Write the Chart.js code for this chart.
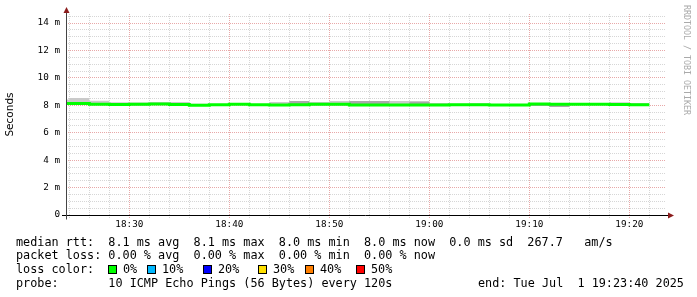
<!DOCTYPE html>
<html>
<head>
<meta charset="utf-8">
<script src="https://cdn.jsdelivr.net/npm/chart.js@4"></script>
<style>
    body { margin: 0; background: #fff; }
    #wrap { position: relative; width: 697px; height: 297px; overflow: hidden; background: #fff; }
    #wrap canvas { position: absolute; left: 0; top: 0; }
    .lg { position: absolute; font-family: 'DejaVu Sans Mono', monospace; font-size: 11.8px; line-height: 14px; white-space: pre; color: #000; }
    .box { position: absolute; top: 265px; width: 7px; height: 7px; border: 1px solid #000; }
    #wm { position: absolute; left: 682px; top: 5px; writing-mode: vertical-rl; font-family: 'DejaVu Sans Mono', monospace; font-size: 8.3px; line-height: 9px; color: #aaa; white-space: pre; }
</style>
</head>
<body>
<div id="wrap">
    <canvas id="rttChart" width="697" height="297"></canvas>
    <div id="wm">RRDTOOL / TOBI OETIKER</div>
    <div class="lg" style="left:16px;top:234.5px">median rtt:  8.1 ms avg  8.1 ms max  8.0 ms min  8.0 ms now  0.0 ms sd  267.7   am/s</div>
    <div class="lg" style="left:16px;top:248.2px">packet loss: 0.00 % avg  0.00 % max  0.00 % min  0.00 % now</div>
    <div class="lg" style="left:16px;top:261.9px">loss color:</div>
    <div id="lossRow"></div>
    <div class="lg" style="left:16px;top:275.6px">probe:       10 ICMP Echo Pings (56 Bytes) every 120s</div>
    <div class="lg" style="left:478px;top:275.6px">end: Tue Jul  1 19:23:40 2025</div>
</div>
<script>
// 2분 간격 측정 구간 (시작 시각)
const stepStart = ['18:22', '18:24', '18:26', '18:28', '18:30', '18:32', '18:34', '18:36', '18:38', '18:40',
    '18:42', '18:44', '18:46', '18:48', '18:50', '18:52', '18:54', '18:56', '18:58', '19:00',
    '19:02', '19:04', '19:06', '19:08', '19:10', '19:12', '19:14', '19:16', '19:18', '19:20'];
const stepEnd = '19:22';
const viewStart = '18:23:40';
const viewEnd = '19:23:40';

// median rtt (ms)
const medianRtt = [8.14, 8.14, 8.08, 8.06, 8.07, 8.10, 8.06, 8.01, 8.05, 8.08,
    8.04, 8.03, 8.04, 8.07, 8.07, 8.03, 8.03, 8.03, 8.03, 8.03,
    8.05, 8.04, 8.03, 8.03, 8.09, 8.07, 8.08, 8.08, 8.06, 8.05];
// smoke 위/아래 (ms)
const smokeHigh = [8.43, 8.53, 8.33, 8.22, 8.20, 8.24, 8.24, 8.12, 8.10, 8.12,
    8.08, 8.24, 8.32, 8.24, 8.31, 8.31, 8.31, 8.31, 8.27, 8.16,
    8.12, 8.15, 8.07, 8.07, 8.12, 8.10, 8.10, 8.14, 8.22, 8.16];
const smokeDense = [8.14, 8.14, 8.08, 8.06, 8.07, 8.10, 8.06, 8.01, 8.05, 8.08,
    8.04, 8.03, 8.32, 8.07, 8.07, 8.31, 8.31, 8.03, 8.27, 8.03,
    8.05, 8.04, 8.03, 8.03, 8.09, 8.07, 8.08, 8.08, 8.06, 8.05];
const smokeLow = [8.08, 8.08, 8.02, 8.00, 8.01, 8.04, 8.00, 7.95, 7.99, 8.02,
    7.98, 7.97, 7.98, 8.01, 8.01, 7.97, 7.97, 7.97, 7.97, 7.97,
    7.99, 7.98, 7.97, 7.97, 7.95, 7.88, 8.02, 8.02, 8.00, 7.99];

const xTickLabels = ['18:30', '18:40', '18:50', '19:00', '19:10', '19:20'];
const yTickLabels = ['0', '2 m', '4 m', '6 m', '8 m', '10 m', '12 m', '14 m'];

const lossNames = ['0%', '10%', '20%', '30%', '40%', '50%'];
const lossColors = ['#00ff00', '#00b8ff', '#0000ff', '#ffe000', '#ff7f00', '#ff0000'];

// 18:00 기준 분 단위
function toMin(t) {
    const p = t.split(':').map(Number);
    return (p[0] - 18) * 60 + p[1] + (p[2] || 0) / 60;
}

function stepPoints(vals) {
    const pts = stepStart.map((t, i) => ({ x: toMin(t), y: vals[i] }));
    pts.push({ x: toMin(stepEnd), y: vals[vals.length - 1] });
    return pts;
}

// loss color 범례
const lossBoxX = [108, 147, 203, 258, 305, 356];
const lossRow = document.getElementById('lossRow');
lossNames.forEach((name, i) => {
    const b = document.createElement('div');
    b.className = 'box';
    b.style.left = lossBoxX[i] + 'px';
    b.style.background = lossColors[i];
    lossRow.appendChild(b);
    const t = document.createElement('div');
    t.className = 'lg';
    t.style.left = (lossBoxX[i] + 15) + 'px';
    t.style.top = '261.9px';
    t.textContent = name;
    lossRow.appendChild(t);
});

const monoFont = { family: "'DejaVu Sans Mono', monospace", size: 9.3 };
const minorGrid = '#d6d6d6';
const majorGrid = '#e8a8a8';

// 축선과 화살표 (rrdtool 스타일)
const axisArrows = {
    id: 'axisArrows',
    afterDatasetsDraw(chart) {
        const { ctx, chartArea: a } = chart;
        const y0 = Math.round(chart.scales.y.getPixelForValue(0)) + 0.5;
        const x0 = Math.round(a.left) + 0.5;
        ctx.save();
        ctx.lineWidth = 1;
        ctx.strokeStyle = '#000';
        ctx.beginPath();
        ctx.moveTo(a.left - 4, y0);
        ctx.lineTo(a.right + 3, y0);
        ctx.stroke();
        ctx.strokeStyle = '#444';
        ctx.beginPath();
        ctx.moveTo(x0, y0 + 4);
        ctx.lineTo(x0, a.top - 2);
        ctx.stroke();
        ctx.fillStyle = '#8b1c1c';
        ctx.beginPath();
        ctx.moveTo(a.right + 8, y0);
        ctx.lineTo(a.right + 2, y0 - 3);
        ctx.lineTo(a.right + 2, y0 + 3);
        ctx.closePath();
        ctx.fill();
        ctx.beginPath();
        ctx.moveTo(x0, a.top - 7);
        ctx.lineTo(x0 - 3, a.top - 1);
        ctx.lineTo(x0 + 3, a.top - 1);
        ctx.closePath();
        ctx.fill();
        ctx.restore();
    }
};

const hidden = 'rgba(0,0,0,0)';

new Chart(document.getElementById('rttChart').getContext('2d'), {
    type: 'line',
    data: {
        datasets: [
            {
                label: 'median rtt',
                data: stepPoints(medianRtt),
                borderColor: lossColors[0],
                borderWidth: 3,
                stepped: true,
                pointRadius: 0,
                fill: false,
                order: 0
            },
            {
                label: 'smoke dense',
                data: stepPoints(smokeDense),
                borderColor: hidden,
                borderWidth: 1,
                backgroundColor: '#a9a9a9',
                stepped: true,
                pointRadius: 0,
                fill: 3,
                order: 1
            },
            {
                label: 'smoke',
                data: stepPoints(smokeHigh),
                borderColor: hidden,
                borderWidth: 1,
                backgroundColor: '#cacaca',
                stepped: true,
                pointRadius: 0,
                fill: 3,
                order: 2
            },
            {
                label: 'smoke low',
                data: stepPoints(smokeLow),
                borderColor: hidden,
                borderWidth: 1,
                stepped: true,
                pointRadius: 0,
                fill: false,
                order: 3
            }
        ]
    },
    options: {
        responsive: false,
        animation: false,
        layout: { padding: { top: 14, right: 31, bottom: 0, left: 0 } },
        plugins: {
            legend: { display: false },
            tooltip: { enabled: false }
        },
        scales: {
            x: {
                type: 'linear',
                min: toMin(viewStart),
                max: toMin(viewEnd),
                afterBuildTicks: s => {
                    const t = [];
                    for (let m = 24; m <= 82; m += 2) t.push({ value: m });
                    s.ticks = t;
                },
                afterFit: s => { s.height = 82; },
                ticks: {
                    autoSkip: false,
                    maxRotation: 0,
                    padding: 0,
                    color: '#000',
                    font: monoFont,
                    callback: function (value) {
                        const i = xTickLabels.findIndex(l => Math.abs(toMin(l) - value) < 0.01);
                        return i >= 0 ? xTickLabels[i] : '';
                    }
                },
                grid: {
                    color: c => (c.tick && c.tick.value % 10 === 0) ? majorGrid : minorGrid,
                    tickColor: c => (c.tick && c.tick.value % 10 === 0) ? majorGrid : minorGrid,
                    lineWidth: 1,
                    drawTicks: true,
                    tickLength: 4,
                    tickBorderDash: [1, 1]
                },
                border: { display: false, dash: [1, 1] }
            },
            y: {
                min: 0,
                max: 14.66,
                afterBuildTicks: s => {
                    const t = [];
                    for (let v = 0; v <= 14.5; v += 0.5) t.push({ value: v });
                    s.ticks = t;
                },
                afterFit: s => { s.width = 66; },
                title: {
                    display: true,
                    text: 'Seconds',
                    color: '#000',
                    font: { family: "'DejaVu Sans', sans-serif", size: 10.5 },
                    padding: { top: 4, bottom: 0 }
                },
                ticks: {
                    autoSkip: false,
                    padding: 6,
                    color: '#000',
                    font: monoFont,
                    callback: function (value) {
                        return value % 2 === 0 ? yTickLabels[value / 2] : '';
                    }
                },
                grid: {
                    color: c => (c.tick && c.tick.value % 2 === 0) ? majorGrid : minorGrid,
                    lineWidth: 1,
                    drawTicks: false
                },
                border: { display: false, dash: [1, 1] }
            }
        }
    },
    plugins: [axisArrows]
});
</script>
</body>
</html>
